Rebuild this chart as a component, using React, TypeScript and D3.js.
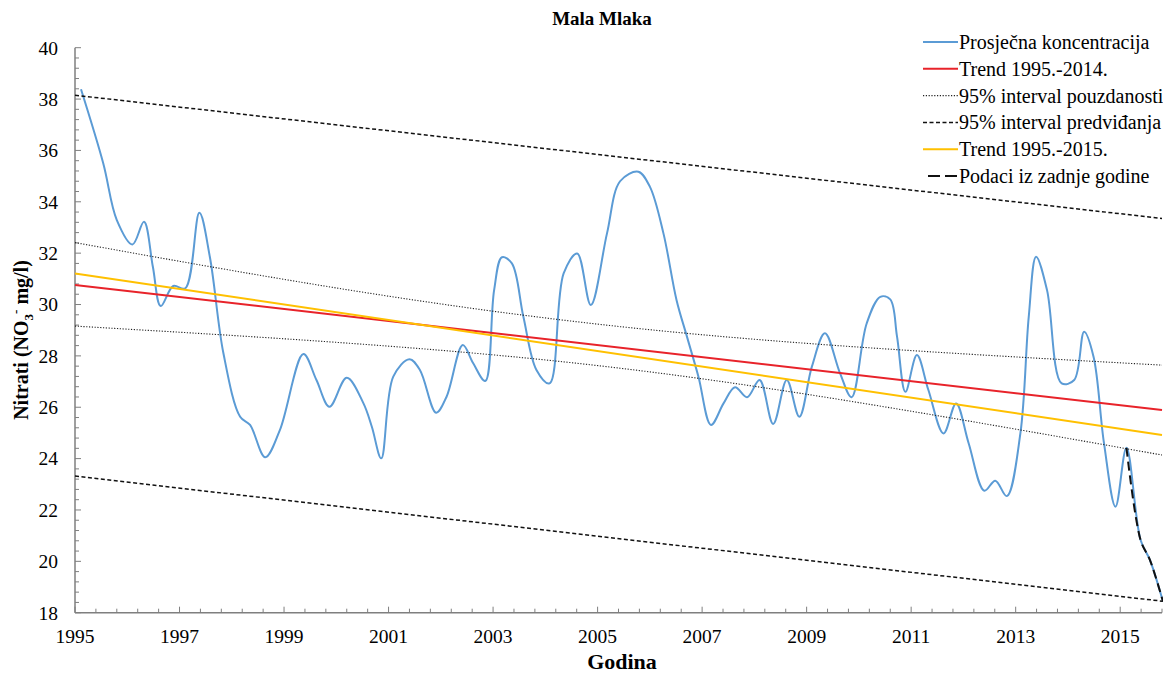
import React from "react";
import * as d3 from "d3";

// ---- Data ----
const blueYears = [
  1995.115, 1995.54, 1995.8, 1996.1, 1996.32, 1996.49, 1996.64, 1996.88, 1997.11, 1997.38,
  1997.58, 1997.84, 1998.16, 1998.35, 1998.64, 1998.92, 1999.37, 1999.62, 1999.87, 2000.2,
  2000.52, 2000.68, 2000.86, 2001.09, 2001.4, 2001.6, 2001.91, 2002.11, 2002.42, 2002.62,
  2002.85, 2003.02, 2003.17, 2003.36, 2003.58, 2003.83, 2004.08, 2004.35, 2004.61, 2004.87,
  2005.18, 2005.43, 2005.78, 2006.0, 2006.26, 2006.51, 2006.71, 2006.93, 2007.17, 2007.41,
  2007.63, 2007.86, 2008.1, 2008.36, 2008.62, 2008.86, 2009.1, 2009.35, 2009.64, 2009.86,
  2010.15, 2010.41, 2010.6, 2010.73, 2010.89, 2011.11, 2011.33, 2011.62, 2011.86, 2012.1,
  2012.4, 2012.61, 2012.83, 2013.09, 2013.25, 2013.39, 2013.6, 2013.88, 2014.12, 2014.31,
  2014.49, 2014.69, 2014.91, 2015.12, 2015.39, 2015.57, 2015.82,
];
const blueValues = [
  38.38, 35.5, 33.29, 32.34, 33.22, 31.47, 29.94, 30.72, 30.63, 33.57,
  31.86, 28.1, 25.63, 25.31, 24.05, 25.11, 28.07, 27.06, 26.02, 27.15,
  26.15, 25.24, 24.01, 27.19, 27.87, 27.45, 25.79, 26.41, 28.42, 27.71,
  27.02, 30.56, 31.84, 31.6, 29.52, 27.45, 26.93, 31.21, 31.99, 29.98,
  32.77, 34.8, 35.17, 34.59, 32.77, 30.18, 28.75, 27.19, 25.31, 26.15,
  26.78, 26.39, 27.06, 25.35, 27.06, 25.63, 27.58, 28.88, 27.32, 26.39,
  29.27, 30.3, 30.2, 28.75, 26.6, 28.03, 26.67, 24.98, 26.15, 24.6,
  22.75, 23.14, 22.54, 24.98, 29.52, 31.86, 30.56, 26.93, 27.06, 28.94,
  27.97, 24.6, 22.13, 24.42, 20.83, 20.05, 18.43,
];

const lastYears = [2015.12, 2015.39, 2015.57, 2015.82];
const lastValues = [24.42, 20.83, 20.05, 18.43];

const trendYears = [1995, 2015.8];
const trend2014Values = [30.76, 25.89];
const trend2015Values = [31.21, 24.92];
const predUpperValues = [38.15, 33.35];
const predLowerValues = [23.32, 18.45];

const confYears = [1995, 2000.26, 2005.43, 2010.6, 2015.8];
const confUpperValues = [32.41, 30.56, 29.14, 28.26, 27.64];
const confLowerValues = [29.16, 28.49, 27.52, 25.98, 24.14];

const xTickLabels = ["1995", "1997", "1999", "2001", "2003", "2005", "2007", "2009", "2011", "2013", "2015"];
const yTickLabels = ["18", "20", "22", "24", "26", "28", "30", "32", "34", "36", "38", "40"];

const legendLabels = [
  "Prosječna koncentracija",
  "Trend 1995.-2014.",
  "95% interval pouzdanosti",
  "95% interval predviđanja",
  "Trend 1995.-2015.",
  "Podaci iz zadnje godine",
];

const title = "Mala Mlaka";
const xTitle = "Godina";

export default function App() {
  const W = 1163;
  const H = 674;
  const x = d3.scaleLinear().domain([1995, 2015.8]).range([75, 1162]);
  const y = d3.scaleLinear().domain([18, 40]).range([612.7, 47.7]);
  const font = "'Liberation Serif', 'Times New Roman', serif";

  const pts = (xs: number[], ys: number[]) => xs.map((v, i) => [v, ys[i]] as [number, number]);
  const straight = d3.line<[number, number]>().x((d) => x(d[0])).y((d) => y(d[1]));
  const smooth = d3
    .line<[number, number]>()
    .x((d) => x(d[0]))
    .y((d) => y(d[1]))
    .curve(d3.curveCatmullRom.alpha(0.5));
  const natural = d3
    .line<[number, number]>()
    .x((d) => x(d[0]))
    .y((d) => y(d[1]))
    .curve(d3.curveNatural);

  const xMinor = d3.range(0, 53).map((i) => 1995 + i * 0.4);
  const yMinor = d3.range(0, 56).map((i) => 18 + i * 0.4);
  const axisColor = "#7f7f7f";

  const styles = [
    { stroke: "#5b9bd5", width: 2, dash: undefined as string | undefined },
    { stroke: "#e8232a", width: 2, dash: undefined },
    { stroke: "#222", width: 1.1, dash: "1.2,1.6" },
    { stroke: "#111", width: 1.5, dash: "4,2.5" },
    { stroke: "#ffc000", width: 2, dash: undefined },
    { stroke: "#111", width: 2, dash: "9,5" },
  ];

  return (
    <svg
      width={W}
      height={H}
      style={{ position: "absolute", left: 0, top: 0, background: "#fff" }}
      fontFamily={font}
    >
      <rect width={W} height={H} fill="#fff" />
      <text x={602} y={25} textAnchor="middle" fontWeight="bold" fontSize={19}>
        {title}
      </text>

      {/* Axes */}
      <line x1={x(1995)} x2={x(1995)} y1={y(40)} y2={y(18)} stroke={axisColor} strokeWidth={1.5} />
      <line x1={x(1995)} x2={x(2015.8)} y1={y(18)} y2={y(18)} stroke={axisColor} strokeWidth={1.5} />
      {yMinor.map((v, i) => (
        <line
          key={"ym" + i}
          x1={x(1995)}
          x2={x(1995) + (i % 5 === 0 ? 6 : 4)}
          y1={y(v)}
          y2={y(v)}
          stroke={axisColor}
          strokeWidth={1}
        />
      ))}
      {xMinor.map((v, i) => (
        <line
          key={"xm" + i}
          x1={x(v)}
          x2={x(v)}
          y1={y(18)}
          y2={y(18) - (i % 5 === 0 ? 6 : 4)}
          stroke={axisColor}
          strokeWidth={1}
        />
      ))}
      {yTickLabels.map((t) => (
        <text key={"yl" + t} x={58} y={y(+t)} dy="0.35em" textAnchor="end" fontSize={19.5}>
          {t}
        </text>
      ))}
      {xTickLabels.map((t) => (
        <text key={"xl" + t} x={x(+t)} y={643} textAnchor="middle" fontSize={19.5}>
          {t}
        </text>
      ))}
      <text x={622} y={669} textAnchor="middle" fontWeight="bold" fontSize={22}>
        {xTitle}
      </text>
      <text
        transform={`translate(28, ${340}) rotate(-90)`}
        textAnchor="middle"
        fontWeight="bold"
        fontSize={20}
      >
        Nitrati (NO
        <tspan fontSize={13} dy={5}>3</tspan>
        <tspan fontSize={13} dy={-13}>-</tspan>
        <tspan dy={8}> mg/l)</tspan>
      </text>

      {/* Series */}
      <path d={smooth(pts(blueYears, blueValues)) || ""} fill="none" stroke={styles[0].stroke} strokeWidth={2} />
      <path d={straight(pts(trendYears, trend2014Values)) || ""} fill="none" stroke={styles[1].stroke} strokeWidth={2} />
      <path d={natural(pts(confYears, confUpperValues)) || ""} fill="none" stroke={styles[2].stroke} strokeWidth={styles[2].width} strokeDasharray={styles[2].dash} />
      <path d={natural(pts(confYears, confLowerValues)) || ""} fill="none" stroke={styles[2].stroke} strokeWidth={styles[2].width} strokeDasharray={styles[2].dash} />
      <path d={straight(pts(trendYears, predUpperValues)) || ""} fill="none" stroke={styles[3].stroke} strokeWidth={styles[3].width} strokeDasharray={styles[3].dash} />
      <path d={straight(pts(trendYears, predLowerValues)) || ""} fill="none" stroke={styles[3].stroke} strokeWidth={styles[3].width} strokeDasharray={styles[3].dash} />
      <path d={straight(pts(trendYears, trend2015Values)) || ""} fill="none" stroke={styles[4].stroke} strokeWidth={2} />
      <path d={smooth(pts(lastYears, lastValues)) || ""} fill="none" stroke={styles[5].stroke} strokeWidth={2} strokeDasharray={styles[5].dash} />

      {/* Legend */}
      {legendLabels.map((label, i) => {
        const ly = 42 + i * 26.8;
        const s = styles[i];
        return (
          <g key={"lg" + i}>
            <rect x={920} y={ly - 12} width={243} height={24} fill="#fff" />
            {i === 5 ? (
              <>
                <line x1={928} x2={940} y1={ly} y2={ly} stroke={s.stroke} strokeWidth={2} />
                <line x1={945} x2={957} y1={ly} y2={ly} stroke={s.stroke} strokeWidth={2} />
              </>
            ) : (
              <line x1={923} x2={958} y1={ly} y2={ly} stroke={s.stroke} strokeWidth={s.width} strokeDasharray={s.dash} />
            )}
            <text x={959} y={ly} dy="0.35em" fontSize={20}>
              {label}
            </text>
          </g>
        );
      })}
    </svg>
  );
}
